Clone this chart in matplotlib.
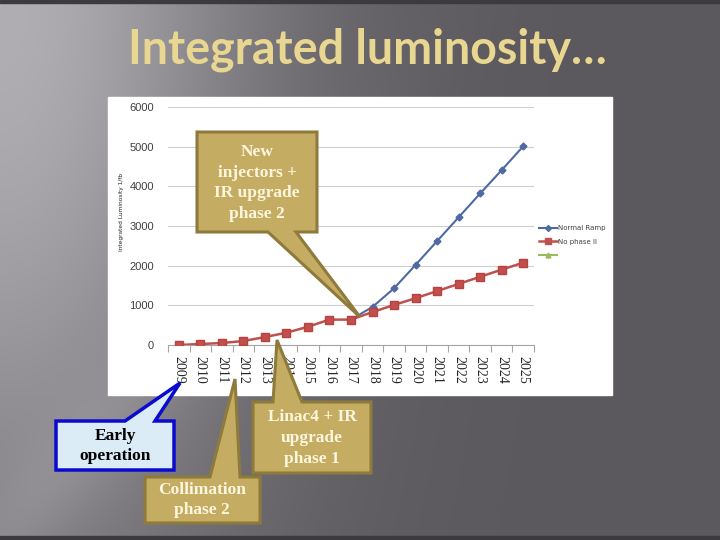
import matplotlib
matplotlib.use('Agg')
import matplotlib.pyplot as plt
import numpy as np
from matplotlib.patches import Polygon, Rectangle
from matplotlib.lines import Line2D

# data
anos = ['2009', '2010', '2011', '2012', '2013', '2014', '2015', '2016', '2017',
        '2018', '2019', '2020', '2021', '2022', '2023', '2024', '2025']
sem_fase2 = [0, 25, 50, 100, 200, 310, 460, 640, 640,
             830, 1010, 1180, 1360, 1540, 1720, 1900, 2075]
anos_rampa = ['2017', '2018', '2019', '2020', '2021', '2022', '2023', '2024', '2025']
rampa_normal = [640, 960, 1430, 2020, 2620, 3220, 3820, 4410, 5010]
legenda = ['Normal Ramp', 'No phase II', '']

W, H = 720, 540
fig = plt.figure(figsize=(7.2, 5.4), dpi=100)

# fundo do slide (gradiente cinza)
fundo = fig.add_axes([0, 0, 1, 1])
fundo.set_xlim(0, W)
fundo.set_ylim(H, 0)
fundo.axis('off')
xx, yy = np.meshgrid(np.arange(W), np.arange(H))
v = 91 + 85 * np.exp(-(xx / 260.0) ** 2 - (yy / 600.0) ** 2)
# faixa diagonal clara no canto superior esquerdo
d = (xx - 0.9 * (H - yy)) / 60.0
v = v + 12 * np.exp(-d ** 2) * np.exp(-(xx / 300.0) ** 2)
img = np.dstack([v, v - 2, v + 3]) / 255.0
fundo.imshow(np.clip(img, 0, 1), extent=[0, W, H, 0], aspect='auto', zorder=0)
fundo.add_patch(Rectangle((0, 0), W, 3, color='#3c3a3e', zorder=1))
fundo.add_patch(Rectangle((0, 536), W, 4, color='#3c3a3e', zorder=1))
fundo.add_patch(Rectangle((108, 97), 504, 298, color='white', zorder=2))
fundo.text(367, 64, 'Integrated luminosity…', color='#e9d690', fontsize=33.5,
           fontweight='bold', family='Lato', ha='center', va='baseline', zorder=3)

# grafico
ax = fig.add_axes([168 / W, 1 - 345 / H, (534 - 168) / W, (345 - 107) / H])
x = np.arange(len(anos))
xr = [anos.index(a) for a in anos_rampa]
ax.plot(xr, rampa_normal, color='#4f6aa3', lw=1.5, marker='D', ms=3.5,
        markeredgecolor='#4f6aa3', zorder=3)
ax.plot(x, sem_fase2, color='#c0504d', lw=1.8, marker='s', ms=5.5,
        markeredgecolor='#b9413f', zorder=4)
ax.set_xlim(-0.5, len(anos) - 0.5)
ax.set_ylim(0, 6000)
ax.set_yticks(np.arange(0, 6001, 1000))
ax.set_xticks(x)
ax.set_xticklabels(anos, rotation=-90, family='Liberation Serif', fontsize=10,
                   color='#262626')
ax.set_xticks(np.arange(-0.5, len(anos), 1), minor=True)
ax.tick_params(axis='x', which='major', length=0, pad=8)
ax.tick_params(axis='x', which='minor', length=5, color='#a6a6a6', width=0.8)
ax.tick_params(axis='y', length=0, labelsize=8, labelcolor='#404040', pad=10)
for t in ax.get_yticklabels():
    t.set_family('Liberation Sans')
ax.grid(axis='y', color='#cfcfcf', lw=0.8)
ax.set_axisbelow(True)
for lado in ['top', 'right', 'left']:
    ax.spines[lado].set_visible(False)
ax.spines['bottom'].set_color('#a6a6a6')
ax.set_facecolor('none')
fig.text(121 / W, 1 - 212 / H, 'Integrated Luminosity 1/fb', rotation=90,
         fontsize=4.2, ha='center', va='center', color='#262626')

handles = [Line2D([], [], color='#4f6aa3', lw=1.5, marker='D', ms=3),
           Line2D([], [], color='#c0504d', lw=1.8, marker='s', ms=5),
           Line2D([], [], color='#9bbb59', lw=1.5, marker='^', ms=3.5)]
fig.legend(handles, legenda, loc='upper left', bbox_to_anchor=(533 / W, 1 - 219 / H),
           frameon=False, fontsize=5, labelspacing=1.1, handlelength=2.6,
           handletextpad=0.15, labelcolor='#404040')

# baloes
cima = fig.add_axes([0, 0, 1, 1])
cima.set_xlim(0, W)
cima.set_ylim(H, 0)
cima.axis('off')
cima.patch.set_alpha(0)

ouro = '#c4ad62'
borda = '#8e7b3c'
texto_ouro = '#fdf6de'
ls = 1.4


def balao(pts, fc, ec, lw):
    cima.add_patch(Polygon(pts, closed=True, fc=fc, ec=ec, lw=lw, joinstyle='miter'))


balao([(197, 132), (317, 132), (317, 232), (296, 232), (360, 317), (268, 232),
       (197, 232)], ouro, borda, 2.2)
cima.text(257, 183, 'New\ninjectors +\nIR upgrade\nphase 2', color=texto_ouro,
          family='Liberation Serif', fontweight='bold', fontsize=12.5,
          ha='center', va='center', linespacing=ls)

balao([(56, 421), (125, 421), (180, 383), (155, 421), (174, 421), (174, 470),
       (56, 470)], '#dcecf6', '#0a0ad0', 2.5)
cima.text(115, 446, 'Early\noperation', color='black', family='Liberation Serif',
          fontweight='bold', fontsize=12.5, ha='center', va='center', linespacing=ls)

balao([(145, 477), (210, 477), (235, 379), (240, 477), (260, 477), (260, 523),
       (145, 523)], ouro, borda, 2.2)
cima.text(202, 500, 'Collimation\nphase 2', color=texto_ouro, family='Liberation Serif',
          fontweight='bold', fontsize=12.5, ha='center', va='center', linespacing=ls)

balao([(253, 402), (273, 402), (277, 340), (302, 402), (371, 402), (371, 473),
       (253, 473)], ouro, borda, 2.2)
cima.text(312, 438, 'Linac4 + IR\nupgrade\nphase 1', color=texto_ouro,
          family='Liberation Serif', fontweight='bold', fontsize=12.5,
          ha='center', va='center', linespacing=ls)

fig.savefig('out.png', dpi=100)
